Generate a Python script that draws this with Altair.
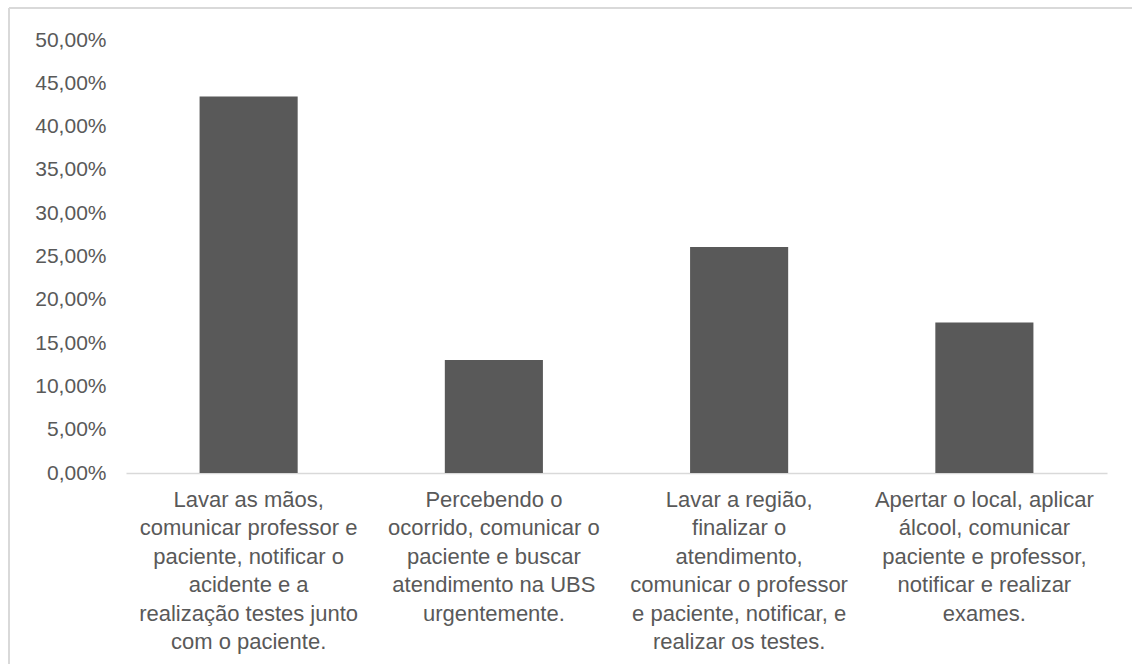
import altair as alt
import pandas as pd

# Response categories (each label split into its display lines)
categories = [
    ["Lavar as mãos,", "comunicar professor e", "paciente, notificar o", "acidente e a",
     "realização testes junto", "com o paciente."],
    ["Percebendo o", "ocorrido, comunicar o", "paciente e buscar", "atendimento na UBS",
     "urgentemente."],
    ["Lavar a região,", "finalizar o", "atendimento,", "comunicar o professor",
     "e paciente, notificar, e", "realizar os testes."],
    ["Apertar o local, aplicar", "álcool, comunicar", "paciente e professor,",
     "notificar e realizar", "exames."],
]
shares = [0.4348, 0.1304, 0.2609, 0.1739]
y_ticks = [0.0, 0.05, 0.10, 0.15, 0.20, 0.25, 0.30, 0.35, 0.40, 0.45, 0.50]

df = pd.DataFrame({"resposta": ["|".join(c) for c in categories], "percentual": shares})

TEXT = "#595959"
FONT = "Liberation Sans"
W, H = 981, 433
LEFT, TOP = 126, 40

bars = alt.Chart(df).mark_bar(color="#595959").encode(
    x=alt.X(
        "resposta:N",
        sort=None,
        title=None,
        scale=alt.Scale(paddingInner=0.6, paddingOuter=0.3),
        axis=alt.Axis(
            labelExpr="split(datum.label, '|')",
            labelAngle=0,
            labelLimit=0,
            labelOverlap=False,
            labelFontSize=22,
            labelLineHeight=28.5,
            labelPadding=16,
            labelColor=TEXT,
            labelFont=FONT,
            ticks=False,
            domainColor="#d9d9d9",
            domainWidth=1.5,
        ),
    ),
    y=alt.Y(
        "percentual:Q",
        title=None,
        scale=alt.Scale(domain=[0, 0.5], nice=False),
        axis=alt.Axis(
            values=y_ticks,
            labelExpr="replace(format(datum.value, '.2%'), '.', ',')",
            labelFontSize=21,
            labelColor=TEXT,
            labelFont=FONT,
            labelPadding=20,
            ticks=False,
            domain=False,
            grid=False,
        ),
    ),
)

# Light frame around the chart area
frame_top = alt.Chart(df).mark_rule(color="#d9d9d9", strokeWidth=1.5).encode(
    x=alt.value(-LEFT + 9), x2=alt.value(W + 40), y=alt.value(-TOP + 8)
)
frame_left = alt.Chart(df).mark_rule(color="#d9d9d9", strokeWidth=1.5).encode(
    x=alt.value(-LEFT + 9), y=alt.value(-TOP + 8), y2=alt.value(H + 200)
)

chart = (
    alt.layer(frame_top, frame_left, bars)
    .properties(
        width=W,
        height=H,
        autosize=alt.AutoSizeParams(type="none"),
        padding={"left": LEFT, "top": TOP, "right": 25, "bottom": 191},
        background="white",
    )
    .configure_view(stroke=None)
)

chart.save("out.html", embed_options={"renderer": "svg", "actions": False})
